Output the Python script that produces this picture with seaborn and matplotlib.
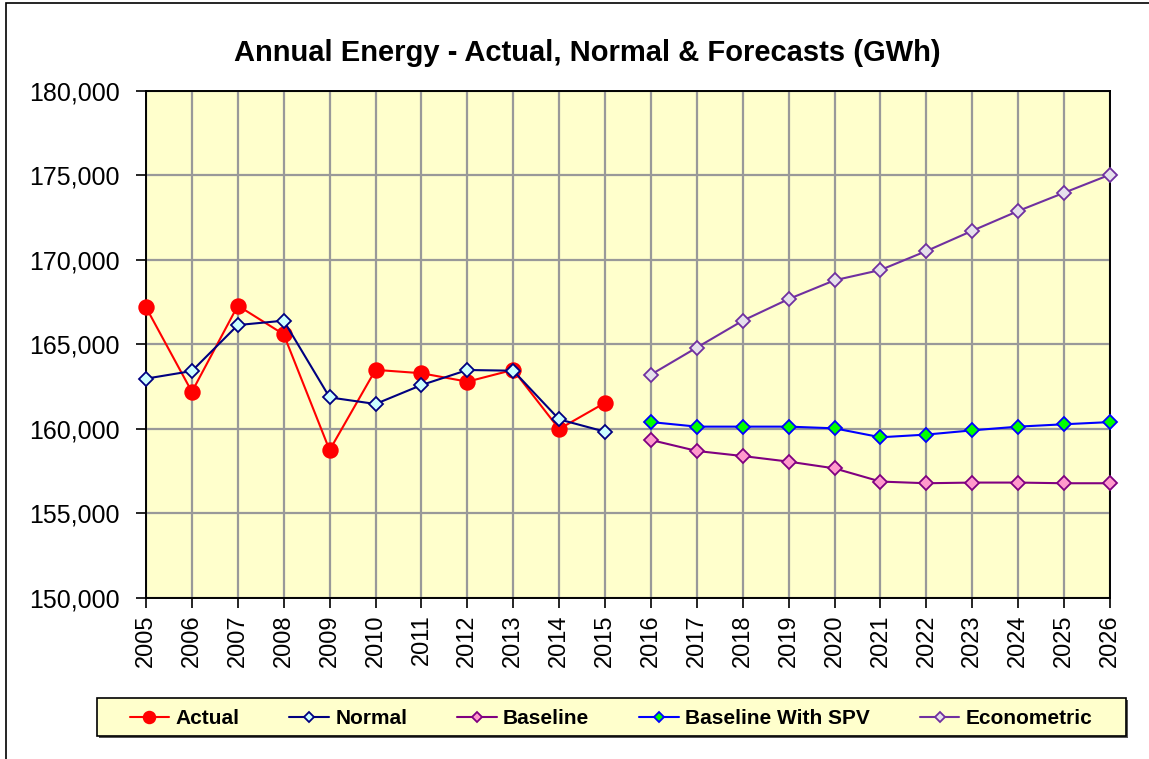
import matplotlib
matplotlib.use("Agg")
import matplotlib.pyplot as plt
import matplotlib.ticker as mticker
from matplotlib.patches import Rectangle
import seaborn as sns

# data
hist_years = list(range(2005, 2016))
fcst_years = list(range(2016, 2027))
actual = [167200, 162200, 167300, 165600, 158750, 163500, 163300, 162800, 163500, 160000, 161550]
normal = [162980, 163430, 166150, 166410, 161870, 161480, 162600, 163490, 163450, 160570, 159840]
baseline = [159350, 158700, 158400, 158070, 157670, 156890, 156790, 156830, 156830, 156790, 156790]
baseline_spv = [160410, 160140, 160140, 160140, 160040, 159510, 159670, 159920, 160140, 160280, 160410]
econometric = [163220, 164820, 166410, 167690, 168800, 169410, 170530, 171730, 172900, 173980, 175050]

sns.set_theme(style="white")
plt.rcParams['font.family'] = ['Liberation Sans', 'DejaVu Sans']
plt.rcParams['text.color'] = 'black'
plt.rcParams['xtick.color'] = 'black'
plt.rcParams['ytick.color'] = 'black'

fig = plt.figure(figsize=(11.49, 7.59), dpi=100)
ax = fig.add_axes([146 / 1149, 1 - 598 / 759, 964 / 1149, 507 / 759])
ax.set_facecolor("#FFFFCC")

series = [
    ("Actual", hist_years, actual, "#FF0000", "o", "#FF0000", "#FF0000", 10.5),
    ("Normal", hist_years, normal, "#000080", "D", "#CCFFFF", "#000080", 7),
    ("Baseline", fcst_years, baseline, "#800080", "D", "#FF99CC", "#800080", 7),
    ("Baseline With SPV", fcst_years, baseline_spv, "#0000FF", "D", "#00FF00", "#0000FF", 7),
    ("Econometric", fcst_years, econometric, "#7030A0", "D", "#E6E0EC", "#7030A0", 7),
]

for name, xs, ys, lc, mk, mfc, mec, ms in series:
    sns.lineplot(x=xs, y=ys, ax=ax, color=lc, lw=1.5, marker=mk, markersize=ms,
                 markerfacecolor=mfc, markeredgecolor=mec, markeredgewidth=1.3,
                 label=name, zorder=3, clip_on=False)

ax.set_xlim(2005, 2026)
ax.set_ylim(150000, 180000)
ax.set_xticks(range(2005, 2027))
ax.set_xticklabels([str(y) for y in range(2005, 2027)], rotation=90, fontsize=17)
ax.set_yticks(range(150000, 180001, 5000))
ax.yaxis.set_major_formatter(mticker.FuncFormatter(lambda v, p: f"{int(v):,}"))
ax.tick_params(axis="y", labelsize=18, length=7, width=1.2, direction="out", left=True, pad=12)
ax.tick_params(axis="x", length=7, width=1.2, direction="out", bottom=True, pad=5)
ax.grid(True, color="#999999", lw=1.6)
ax.set_axisbelow(True)
for s in ax.spines.values():
    s.set_color("black")
    s.set_linewidth(1.4)

fig.text(587 / 1149, 1 - 53 / 759, "Annual Energy - Actual, Normal & Forecasts (GWh)",
         ha="center", va="center", fontsize=21, fontweight="bold")

# legend box like the Excel one
fig.patches.append(Rectangle((99 / 1149, 1 - 738 / 759), 1029 / 1149, 38 / 759,
                             transform=fig.transFigure, facecolor="#555555",
                             edgecolor="none", zorder=1))
fig.patches.append(Rectangle((97 / 1149, 1 - 736 / 759), 1029 / 1149, 38 / 759,
                             transform=fig.transFigure, facecolor="#FFFFCC",
                             edgecolor="black", lw=1.2, zorder=2))

ax.get_legend().remove()
handles, labels = ax.get_legend_handles_labels()
leg = fig.legend(handles, labels, ncol=5, loc="center",
                 bbox_to_anchor=(611 / 1149, 1 - 719 / 759),
                 frameon=False, prop={"weight": "bold", "size": 15},
                 handlelength=1.9, handletextpad=0.3, columnspacing=2.4,
                 markerscale=0.8)

# chart frame
fig.patches.append(Rectangle((6 / 1149, -0.01), 1.2, 1 - 3 / 759 + 0.01, transform=fig.transFigure,
                             fill=False, edgecolor="black", lw=1.2))

fig.savefig("out.png", dpi=100)
